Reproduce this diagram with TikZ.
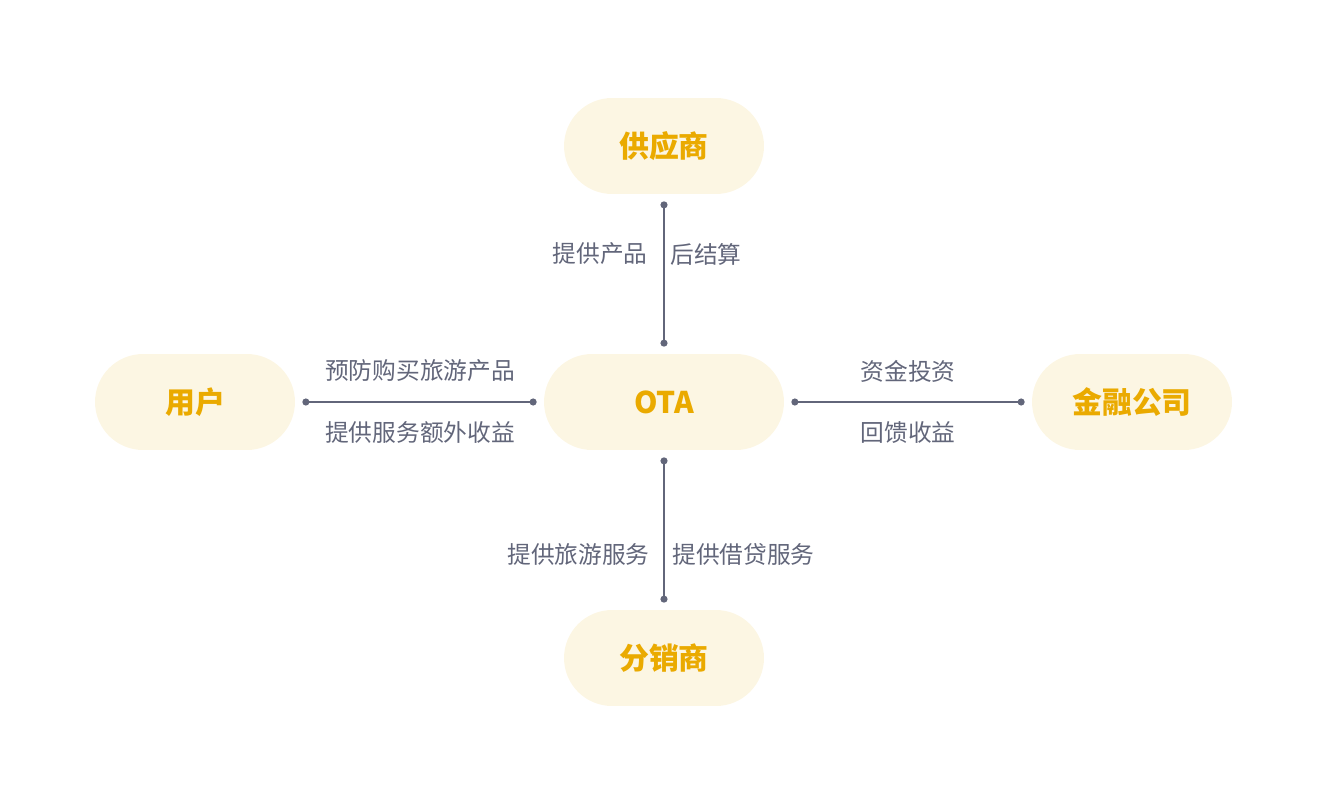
\documentclass[tikz,border=0pt]{standalone}
\usepackage{fontspec}
\setmainfont{Noto Sans CJK SC}
\usetikzlibrary{positioning,arrows.meta}
\definecolor{boxfill}{HTML}{FCF6E3}
\definecolor{boxtext}{HTML}{EAAA00}
\definecolor{linkgray}{HTML}{62667A}
\tikzset{
  party/.style={fill=boxfill, rounded corners=0.96cm, minimum width=4cm, minimum height=1.92cm,
    text=boxtext, font=\fontsize{17}{20}\selectfont\bfseries},
  link/.style={linkgray, line width=0.8pt, {Circle[length=4pt]}-{Circle[length=4pt]}},
  note/.style={text=linkgray, font=\fontsize{13.5}{16}\selectfont, inner sep=0pt}
}
\begin{document}
\begin{tikzpicture}[x=0.02cm,y=-0.02cm]
\useasboundingbox (0,0) rectangle (1328,804);

\node[party] (sup) at (664,146) {供应商};
\node[party] (user) at (195,402) {用户};
\node[party, minimum width=4.8cm] (ota) at (664,402) {OTA};
\node[party] (fin) at (1132,402) {金融公司};
\node[party] (dist) at (664,658) {分销商};

\draw[link] ([yshift=-4pt]sup.south) -- ([yshift=4pt]ota.north);
\draw[link] ([xshift=4pt]user.east) -- ([xshift=-4pt]ota.west);
\draw[link] ([xshift=4pt]ota.east) -- ([xshift=-4pt]fin.west);
\draw[link] ([yshift=-4pt]ota.south) -- ([yshift=4pt]dist.north);

% labels
\node[note, anchor=east] (l1) at (648,254) {提供产品};
\node[note, anchor=west] (l2) at (670,254) {后结算};
\node[note] (l3) at (420,371) {预防购买旅游产品};
\node[note] (l4) at (420,433) {提供服务额外收益};
\node[note] (l5) at (908,371) {资金投资};
\node[note] (l6) at (908,433) {回馈收益};
\node[note, anchor=east] (l7) at (650,554) {提供旅游服务};
\node[note, anchor=west] (l8) at (672,554) {提供借贷服务};
\end{tikzpicture}
\end{document}
